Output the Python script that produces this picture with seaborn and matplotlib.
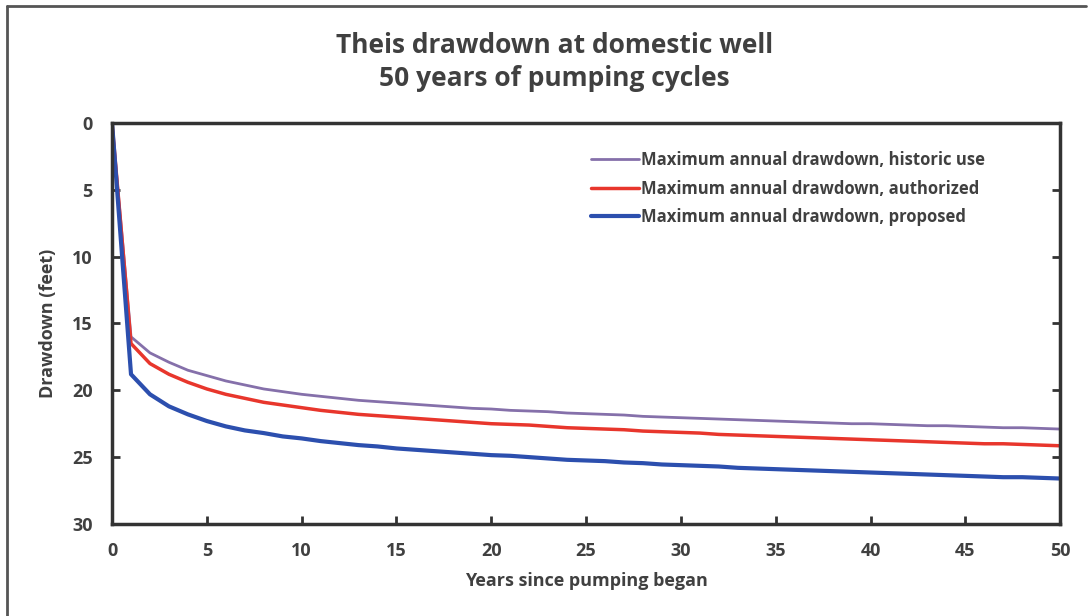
import numpy as np
import pandas as pd
import seaborn as sns
import matplotlib.pyplot as plt
from matplotlib.lines import Line2D

# Yearly values (drawdown in feet)
years = list(range(0, 51))
historic = [0, 16.0, 17.2, 17.9, 18.5, 18.9, 19.3, 19.6, 19.9, 20.1, 20.3,
            20.45, 20.6, 20.75, 20.85, 20.95, 21.05, 21.15, 21.25, 21.35, 21.4,
            21.5, 21.55, 21.6, 21.7, 21.75, 21.8, 21.85, 21.95, 22.0, 22.05,
            22.1, 22.15, 22.2, 22.25, 22.3, 22.35, 22.4, 22.45, 22.5, 22.5,
            22.55, 22.6, 22.65, 22.65, 22.7, 22.75, 22.8, 22.8, 22.85, 22.9]
authorized = [0, 16.5, 18.0, 18.8, 19.4, 19.9, 20.3, 20.6, 20.9, 21.1, 21.3,
              21.5, 21.65, 21.8, 21.9, 22.0, 22.1, 22.2, 22.3, 22.4, 22.5,
              22.55, 22.6, 22.7, 22.8, 22.85, 22.9, 22.95, 23.05, 23.1, 23.15,
              23.2, 23.3, 23.35, 23.4, 23.45, 23.5, 23.55, 23.6, 23.65, 23.7,
              23.75, 23.8, 23.85, 23.9, 23.95, 24.0, 24.0, 24.05, 24.1, 24.15]
proposed = [0, 18.8, 20.3, 21.2, 21.8, 22.3, 22.7, 23.0, 23.2, 23.45, 23.6,
            23.8, 23.95, 24.1, 24.2, 24.35, 24.45, 24.55, 24.65, 24.75, 24.85,
            24.9, 25.0, 25.1, 25.2, 25.25, 25.3, 25.4, 25.45, 25.55, 25.6,
            25.65, 25.7, 25.8, 25.85, 25.9, 25.95, 26.0, 26.05, 26.1, 26.15,
            26.2, 26.25, 26.3, 26.35, 26.4, 26.45, 26.5, 26.5, 26.55, 26.6]

labels = ['Maximum annual drawdown, historic use',
          'Maximum annual drawdown, authorized',
          'Maximum annual drawdown, proposed']
colors = ['#8570aa', '#e8362c', '#2c4fae']
widths = [2.0, 2.5, 3.0]

df = pd.DataFrame({'Year': years * 3,
                   'Drawdown': historic + authorized + proposed,
                   'Series': [labels[0]] * 51 + [labels[1]] * 51 + [labels[2]] * 51})

sns.set_style('white')
plt.rcParams['font.family'] = ['Open Sans', 'DejaVu Sans']
plt.rcParams['font.weight'] = 'bold'
txt = '#404040'

fig = plt.figure(figsize=(10.91, 6.16), dpi=100)
ax = fig.add_axes([0.1027, 0.1494, 0.869, 0.651])

for lab, col, lw in zip(labels, colors, widths):
    sns.lineplot(data=df[df['Series'] == lab], x='Year', y='Drawdown',
                 color=col, linewidth=lw, label=lab, ax=ax)

ax.set_xlim(0, 50)
ax.set_ylim(30, 0)
ax.set_xticks(range(0, 51, 5))
ax.set_yticks(range(0, 31, 5))
for s in ax.spines.values():
    s.set_color('#333333')
    s.set_linewidth(2.5)
ax.tick_params(axis='both', direction='in', length=6, width=2, color='#333333',
               labelsize=13, labelcolor=txt)
ax.tick_params(axis='y', right=True, labelright=False, left=True)
ax.tick_params(axis='x', bottom=True)
ax.xaxis.set_tick_params(pad=13)
ax.yaxis.set_tick_params(pad=14)
ax.set_xlabel('Years since pumping began', fontsize=13, fontweight='bold',
              color=txt)
ax.set_ylabel('Drawdown (feet)', fontsize=13, fontweight='bold', color=txt)
ax.xaxis.set_label_coords(0.5, -0.12)
ax.yaxis.set_label_coords(-0.058, 0.5)

fig.suptitle('Theis drawdown at domestic well\n50 years of pumping cycles',
             x=0.508, y=0.948, va='top', fontsize=19, fontweight='bold',
             color=txt, linespacing=1.3)

leg = ax.legend(loc='upper left', bbox_to_anchor=(0.534, 0.768),
                bbox_transform=fig.transFigure, frameon=False, fontsize=12,
                handlelength=2.9, handletextpad=0.1, labelspacing=0.62,
                borderpad=0)
for t in leg.get_texts():
    t.set_color(txt)

# outer frame of the original figure
fig.add_artist(Line2D([0.006, 0.006], [0.0, 0.99], color='#555555', lw=2,
                      transform=fig.transFigure))
fig.add_artist(Line2D([0.006, 0.995], [0.99, 0.99], color='#555555', lw=2,
                      transform=fig.transFigure))

fig.savefig('out.png', dpi=100)
